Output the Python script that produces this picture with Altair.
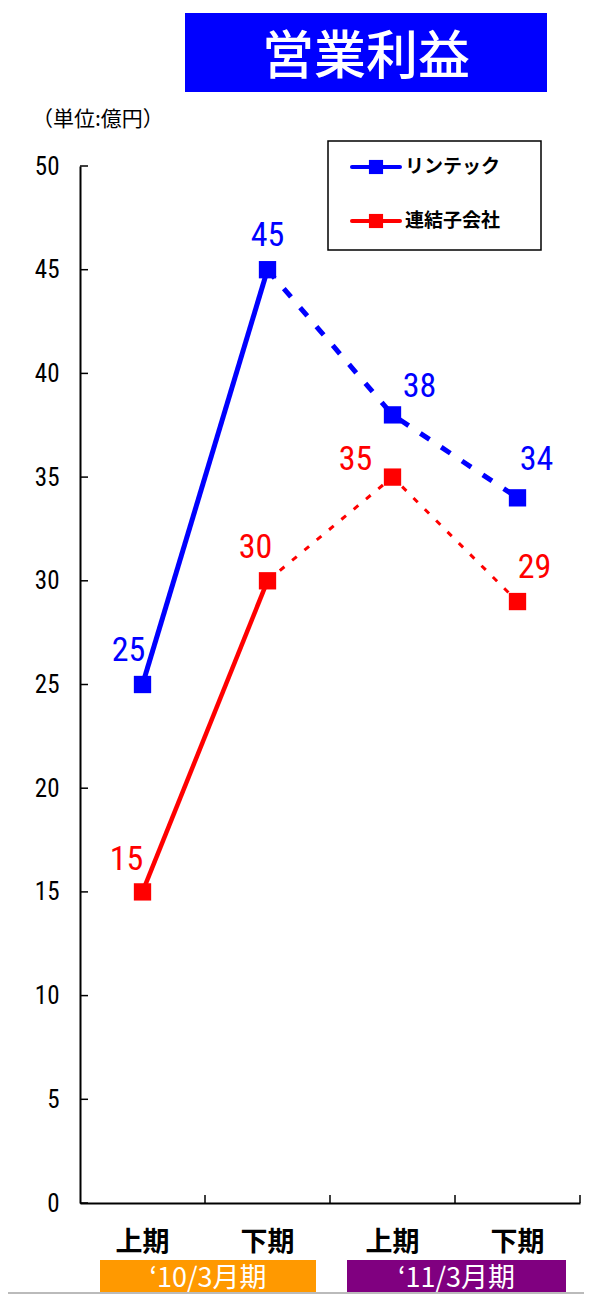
import altair as alt
import pandas as pd

# ---- data ----
periods = ["上期", "下期", "上期", "下期"]
fiscal_years = ["‘10/3月期", "‘11/3月期"]
series_names = ["リンテック", "連結子会社"]
lintec = [25, 45, 38, 34]
subsidiaries = [15, 30, 35, 29]
y_tick_values = [0, 5, 10, 15, 20, 25, 30, 35, 40, 45, 50]
title_text = "営業利益"
unit_text = "（単位:億円）"

# ---- styles ----
colors = {"リンテック": "#0000FF", "連結子会社": "#FF0000"}
NUM_FONT = "Liberation Sans Narrow, Roboto Condensed, DejaVu Sans Condensed, Roboto, sans-serif"
JP_FONT = "Noto Sans CJK JP"
W, H = 500, 1037
# label offsets (dx, dy) per point for each series
label_offsets = {
    "リンテック": [(-14, -34), (0, -34), (27, -28), (19, -38)],
    "連結子会社": [(-16, -32), (-12, -33), (-37, -17), (17, -34)],
}

rows = []
for s, vals in zip(series_names, [lintec, subsidiaries]):
    for i, (p, v) in enumerate(zip(periods, vals)):
        rows.append({"series": s, "idx": i, "pos": i + 0.5, "period": p, "value": v})
df = pd.DataFrame(rows)

xs = alt.Scale(domain=[0, 4], nice=False, zero=False)
ys = alt.Scale(domain=[0, 50], nice=False, zero=True)

base = alt.Chart(df)

# axes
axes = alt.Chart(pd.DataFrame({"v": y_tick_values})).mark_rule(opacity=0).encode(
    x=alt.X("v:Q", scale=xs, axis=alt.Axis(title=None, labels=False, ticks=False, grid=False,
                                          domainColor="black", domainWidth=2)),
    y=alt.Y("v:Q", scale=ys, axis=alt.Axis(title=None, values=y_tick_values, ticks=False, grid=False,
                                          domainColor="black", domainWidth=2,
                                          labelFont=NUM_FONT, labelFontSize=25, labelColor="black",
                                          labelPadding=21)),
)

ytick_marks = alt.Chart(pd.DataFrame({"v": y_tick_values})).mark_rule(color="black", strokeWidth=1.5).encode(
    y=alt.Y("v:Q", scale=ys), x=alt.value(0), x2=alt.value(8)
)
xtick_marks = alt.Chart(pd.DataFrame({"v": [1, 2, 3, 4]})).mark_rule(color="black", strokeWidth=1.5).encode(
    x=alt.X("v:Q", scale=xs), y=alt.value(H), y2=alt.value(H - 8)
)

layers = [axes, ytick_marks, xtick_marks]

line_styles = {
    "リンテック": dict(solid_w=5, dash_w=5, dash=[11, 14]),
    "連結子会社": dict(solid_w=4.5, dash_w=3, dash=[6, 10]),
}
for s in series_names:
    c = colors[s]
    st = line_styles[s]
    sd = base.transform_filter(alt.datum.series == s)
    solid = sd.transform_filter(alt.datum.idx <= 1).mark_line(color=c, strokeWidth=st["solid_w"]).encode(
        x=alt.X("pos:Q", scale=xs), y=alt.Y("value:Q", scale=ys), order="idx:Q")
    dashed = sd.transform_filter(alt.datum.idx >= 1).mark_line(
        color=c, strokeWidth=st["dash_w"], strokeDash=st["dash"]).encode(
        x=alt.X("pos:Q", scale=xs), y=alt.Y("value:Q", scale=ys), order="idx:Q")
    pts = sd.mark_point(shape="square", filled=True, color=c, size=300, opacity=1).encode(
        x=alt.X("pos:Q", scale=xs), y=alt.Y("value:Q", scale=ys))
    layers += [solid, dashed, pts]
    for i, (dx, dy) in enumerate(label_offsets[s]):
        lbl = sd.transform_filter(alt.datum.idx == i).mark_text(
            color=c, font=NUM_FONT, fontSize=34, dx=dx, dy=dy, align="center", baseline="middle").encode(
            x=alt.X("pos:Q", scale=xs), y=alt.Y("value:Q", scale=ys), text="value:Q")
        layers.append(lbl)

# category labels under x axis
cat_df = pd.DataFrame({"pos": [i + 0.5 for i in range(len(periods))], "period": periods})
cats = alt.Chart(cat_df).mark_text(font=JP_FONT, fontSize=27, fontWeight="bold", color="black",
                                   baseline="middle").encode(
    x=alt.X("pos:Q", scale=xs), y=alt.value(1077), text="period:N")
layers.append(cats)

# fiscal year boxes
fy_df = pd.DataFrame({"label": fiscal_years, "x0": [20, 267], "x1": [236, 486],
                      "col": ["#FF9900", "#800080"]})
fy_rect = alt.Chart(fy_df).mark_rect().encode(
    x=alt.X("x0:Q", scale=None), x2="x1:Q", y=alt.value(1094), y2=alt.value(1128),
    color=alt.Color("col:N", scale=None))
fy_text = alt.Chart(fy_df).transform_calculate(xm="(datum.x0 + datum.x1) / 2").mark_text(
    font=JP_FONT, fontSize=27, color="white", baseline="middle").encode(
    x=alt.X("xm:Q", scale=None), y=alt.value(1113), text="label:N")
layers += [fy_rect, fy_text]

# title box
one = pd.DataFrame({"t": [title_text]})
title_rect = alt.Chart(one).mark_rect(color="#0000FF").encode(
    x=alt.value(105), x2=alt.value(467), y=alt.value(-153), y2=alt.value(-74))
title_txt = alt.Chart(one).mark_text(font=JP_FONT, fontSize=52, fontWeight=500, color="white",
                                     baseline="middle").encode(
    x=alt.value(286), y=alt.value(-108), text="t:N")
unit_txt = alt.Chart(pd.DataFrame({"t": [unit_text]})).mark_text(
    font=JP_FONT, fontSize=21, color="black", align="left", baseline="middle").encode(
    x=alt.value(-48), y=alt.value(-46), text="t:N")
layers += [title_rect, title_txt, unit_txt]

# legend
leg_box = alt.Chart(one).mark_rect(fill="white", stroke="black", strokeWidth=1.5).encode(
    x=alt.value(248), x2=alt.value(461), y=alt.value(-25), y2=alt.value(84))
layers.append(leg_box)
for k, s in enumerate(series_names):
    yy = 1 + 54 * k
    sdf = pd.DataFrame({"s": [s]})
    layers.append(alt.Chart(sdf).mark_rule(color=colors[s], strokeWidth=4, strokeCap="round").encode(
        x=alt.value(272), x2=alt.value(320), y=alt.value(yy)))
    layers.append(alt.Chart(sdf).mark_point(shape="square", filled=True, color=colors[s], size=200,
                                            opacity=1).encode(x=alt.value(296), y=alt.value(yy)))
    layers.append(alt.Chart(sdf).mark_text(font=JP_FONT, fontSize=19, fontWeight="bold", color="black",
                                           align="left", baseline="middle").encode(
        x=alt.value(325), y=alt.value(yy), text="s:N"))

# bottom gray border
layers.append(alt.Chart(one).mark_rule(color="#BBBBBB", strokeWidth=2).encode(
    x=alt.value(-72), x2=alt.value(512), y=alt.value(1127)))

chart = alt.layer(*layers).properties(
    width=W, height=H,
    autosize=alt.AutoSizeParams(type="none"),
    padding={"left": 72, "top": 158, "right": 4, "bottom": 91},
).configure_view(stroke=None)

chart.save("out.html", embed_options={"renderer": "svg", "actions": False})
